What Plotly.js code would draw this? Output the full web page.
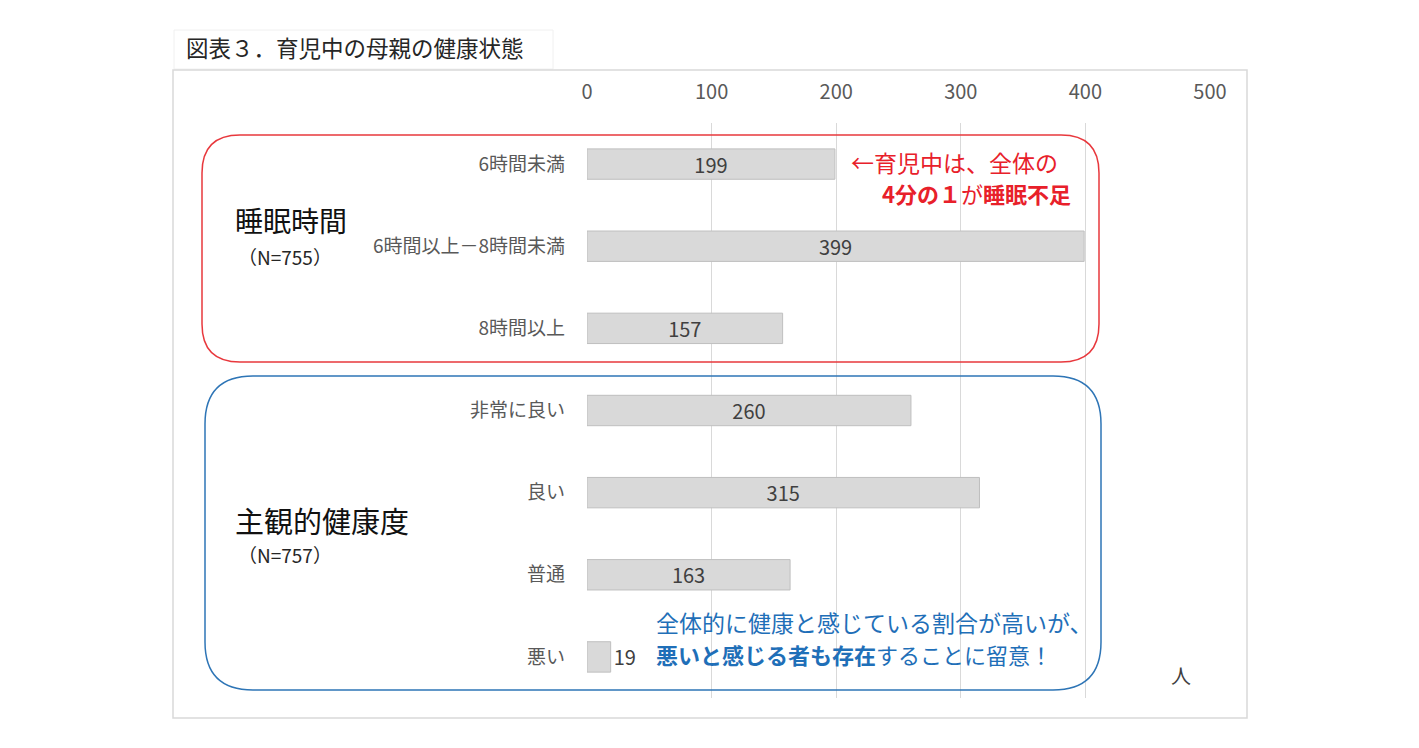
<!DOCTYPE html>
<html>
<head>
<meta charset="utf-8">
<script src="https://cdn.plot.ly/plotly-3.0.1.min.js"></script>
<style>
  html, body { margin: 0; padding: 0; background: #fff; }
  #chart { width: 1419px; height: 748px; }
</style>
</head>
<body>
<div id="chart"></div>
<script>
const categories = ['6時間未満', '6時間以上－8時間未満', '8時間以上', '非常に良い', '良い', '普通', '悪い'];
const counts = [199, 399, 157, 260, 315, 163, 19];
const xTicks = [0, 100, 200, 300, 400, 500];

// plot area in pixels: x 587..1210, y 123..698
const px = x => (x - 587) / 623;
const py = y => (698 - y) / 575;

function roundRect(x0, y0, x1, y1, r) {
    const p = (x, y) => px(x) + ',' + py(y);
    return 'M' + p(x0 + r, y0) + ' L' + p(x1 - r, y0) +
        ' Q' + p(x1, y0) + ' ' + p(x1, y0 + r) +
        ' L' + p(x1, y1 - r) +
        ' Q' + p(x1, y1) + ' ' + p(x1 - r, y1) +
        ' L' + p(x0 + r, y1) +
        ' Q' + p(x0, y1) + ' ' + p(x0, y1 - r) +
        ' L' + p(x0, y0 + r) +
        ' Q' + p(x0, y0) + ' ' + p(x0 + r, y0) + ' Z';
}

const jp = '"Noto Sans CJK JP", "Noto Sans", sans-serif';

const data = [{
    type: 'bar',
    orientation: 'h',
    y: categories,
    x: counts,
    text: counts.map(String),
    textposition: counts.map(v => v < 40 ? 'outside' : 'inside'),
    insidetextanchor: 'middle',
    constraintext: 'none',
    textfont: { family: jp, size: 20, color: '#404040' },
    cliponaxis: false,
    marker: { color: '#d9d9d9', line: { color: '#bfbfbf', width: 1 } },
    hoverinfo: 'x+y',
}];

const layout = {
    width: 1419,
    height: 748,
    margin: { l: 587, r: 209, t: 123, b: 50 },
    paper_bgcolor: '#ffffff',
    plot_bgcolor: '#ffffff',
    showlegend: false,
    bargap: 0.63,
    font: { family: jp, color: '#595959' },
    xaxis: {
        range: [0, 500],
        side: 'top',
        tickvals: xTicks,
        tickfont: { size: 20, color: '#595959' },
        showgrid: true,
        gridcolor: '#d9d9d9',
        gridwidth: 1,
        zeroline: false,
        showline: false,
        ticks: '',
        ticklabelstandoff: 19,
        fixedrange: true,
    },
    yaxis: {
        categoryorder: 'array',
        categoryarray: categories,
        autorange: 'reversed',
        tickfont: { size: 19, color: '#595959' },
        ticks: '',
        ticklabelstandoff: 21,
        showline: false,
        zeroline: false,
        fixedrange: true,
    },
    shapes: [
        // title box and outer frame
        { type: 'rect', xref: 'paper', yref: 'paper', x0: px(174), x1: px(553), y0: py(69), y1: py(30),
          line: { color: '#f0f0f0', width: 1 } },
        { type: 'rect', xref: 'paper', yref: 'paper', x0: px(173), x1: px(1247), y0: py(718), y1: py(70),
          line: { color: '#d9d9d9', width: 1.5 } },
        // group frames
        { type: 'path', xref: 'paper', yref: 'paper', path: roundRect(202, 135, 1099, 362, 38),
          line: { color: '#e8383d', width: 1.5 } },
        { type: 'path', xref: 'paper', yref: 'paper', path: roundRect(205, 376, 1101, 690, 48),
          line: { color: '#2e75b6', width: 1.5 } },
    ],
    annotations: [
        { xref: 'paper', yref: 'paper', x: px(184), y: py(47), xanchor: 'left', yanchor: 'middle',
          text: '図表３．育児中の母親の健康状態', showarrow: false,
          font: { family: jp, size: 22.5, color: '#262626' } },
        { xref: 'paper', yref: 'paper', x: px(233), y: py(220), xanchor: 'left', yanchor: 'middle',
          text: '睡眠時間', showarrow: false, font: { family: jp, size: 28, color: '#111111' } },
        { xref: 'paper', yref: 'paper', x: px(236), y: py(256), xanchor: 'left', yanchor: 'middle',
          text: '（N=755）', showarrow: false, font: { family: jp, size: 19, color: '#262626' } },
        { xref: 'paper', yref: 'paper', x: px(233), y: py(520), xanchor: 'left', yanchor: 'middle',
          text: '主観的健康度', showarrow: false, font: { family: jp, size: 29, color: '#111111' } },
        { xref: 'paper', yref: 'paper', x: px(236), y: py(554), xanchor: 'left', yanchor: 'middle',
          text: '（N=757）', showarrow: false, font: { family: jp, size: 19, color: '#262626' } },
        { xref: 'paper', yref: 'paper', x: px(849), y: py(162), xanchor: 'left', yanchor: 'middle',
          text: '←育児中は、全体の', showarrow: false, font: { family: jp, size: 23, color: '#e8202a' } },
        { xref: 'paper', yref: 'paper', x: px(1073), y: py(193), xanchor: 'right', yanchor: 'middle',
          text: '<b>4分の１</b>が<b>睡眠不足</b>', showarrow: false, font: { family: jp, size: 22, color: '#e8202a' } },
        { xref: 'paper', yref: 'paper', x: px(654), y: py(622), xanchor: 'left', yanchor: 'middle',
          text: '全体的に健康と感じている割合が高いが、', showarrow: false, font: { family: jp, size: 23, color: '#1f6fb8' } },
        { xref: 'paper', yref: 'paper', x: px(654), y: py(654), xanchor: 'left', yanchor: 'middle',
          text: '<b>悪いと感じる者も存在</b>することに留意！', showarrow: false, font: { family: jp, size: 22, color: '#1f6fb8' } },
        { xref: 'paper', yref: 'paper', x: px(1181), y: py(675), xanchor: 'center', yanchor: 'middle',
          text: '人', showarrow: false, font: { family: jp, size: 20, color: '#404040' } },
    ],
};

Plotly.newPlot('chart', data, layout, { displayModeBar: false, staticPlot: true });
</script>
</body>
</html>
